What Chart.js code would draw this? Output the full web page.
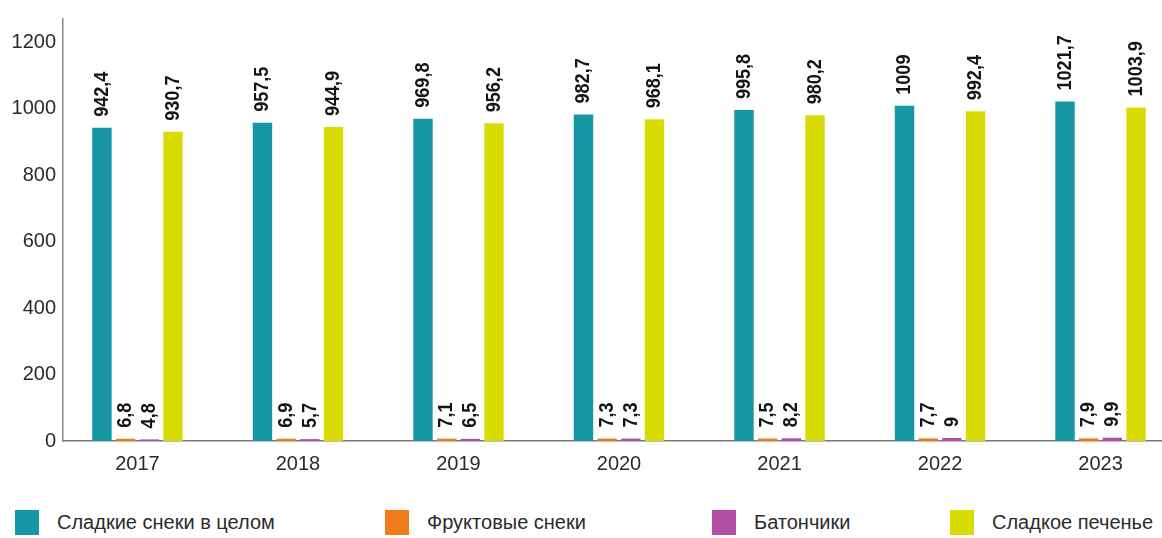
<!DOCTYPE html>
<html lang="ru">
<head>
<meta charset="utf-8">
<title>Сладкие снеки</title>
<script src="https://cdn.jsdelivr.net/npm/chart.js@4.4.1/dist/chart.umd.min.js"></script>
<style>
    html, body { margin: 0; padding: 0; background: #fff; }
    #wrap { position: relative; width: 1162px; height: 538px; overflow: hidden; }
    #chart { position: absolute; left: 0; top: 0; }
    #legend { position: absolute; left: 0; top: 510px; width: 1162px; height: 28px; }
    .item {
        position: absolute; top: 0; height: 25px;
        display: flex; align-items: center; white-space: nowrap;
        font: 20px 'Liberation Sans', Arial, sans-serif;
        color: #2b2b2b;
    }
    .box { width: 24px; height: 25px; margin-right: 18px; flex: none; }
</style>
</head>
<body>
<div id="wrap">
    <canvas id="chart" width="1162" height="490"></canvas>
    <div id="legend"></div>
</div>
<script>
const years = ['2017', '2018', '2019', '2020', '2021', '2022', '2023'];
const sweetSnacks = [942.4, 957.5, 969.8, 982.7, 995.8, 1009, 1021.7];
const fruitSnacks = [6.8, 6.9, 7.1, 7.3, 7.5, 7.7, 7.9];
const snackBars = [4.8, 5.7, 6.5, 7.3, 8.2, 9, 9.9];
const sweetCookies = [930.7, 944.9, 956.2, 968.1, 980.2, 992.4, 1003.9];
const yTicks = [0, 200, 400, 600, 800, 1000, 1200];

const FONT = "'Liberation Sans', Arial, sans-serif";
Chart.defaults.font.family = FONT;

// x is a linear axis so the groups can sit where they do in the picture
const X_MIN = -0.464, X_MAX = 6.383;
const toPoints = arr => arr.map((v, i) => ({x: i, y: v}));
const fmt = v => String(v).replace('.', ',');

const barLabels = {
    id: 'barLabels',
    afterDatasetsDraw(chart) {
        const ctx = chart.ctx;
        ctx.save();
        ctx.font = 'bold 21px ' + FONT;
        ctx.fillStyle = '#151515';
        ctx.textAlign = 'left';
        ctx.textBaseline = 'middle';
        chart.data.datasets.forEach((ds, di) => {
            chart.getDatasetMeta(di).data.forEach((bar, i) => {
                ctx.save();
                ctx.translate(bar.x, bar.y - 11);
                ctx.rotate(-Math.PI / 2);
                ctx.scale(0.86, 1); // narrow lettering like the original
                ctx.fillText(fmt(ds.data[i].y), 0, 0);
                ctx.restore();
            });
        });
        ctx.restore();
    }
};

const chart = new Chart(document.getElementById('chart'), {
    type: 'bar',
    data: {
        datasets: [{
            label: 'Сладкие снеки в целом',
            data: toPoints(sweetSnacks),
            backgroundColor: '#1797a5'
        }, {
            label: 'Фруктовые снеки',
            data: toPoints(fruitSnacks),
            backgroundColor: '#f07c1c'
        }, {
            label: 'Батончики',
            data: toPoints(snackBars),
            backgroundColor: '#b24fa7'
        }, {
            label: 'Сладкое печенье',
            data: toPoints(sweetCookies),
            backgroundColor: '#d9dc02'
        }]
    },
    options: {
        responsive: false,
        animation: false,
        categoryPercentage: 0.59,
        barPercentage: 0.82,
        layout: {padding: {top: 13, left: 0, right: 0, bottom: 0}},
        plugins: {legend: {display: false}, tooltip: {enabled: false}},
        scales: {
            x: {
                type: 'linear',
                offset: false,
                bounds: 'data',
                min: X_MIN,
                max: X_MAX,
                grid: {display: false, drawTicks: false, tickLength: 0},
                border: {display: true, color: '#7a7a7a', width: 1.5},
                afterBuildTicks: s => {
                    s.min = X_MIN;
                    s.max = X_MAX;
                    s.ticks = years.map((_, i) => ({value: i}));
                },
                afterFit: s => { s.height = 49; },
                ticks: {
                    padding: 11,
                    color: '#2b2b2b',
                    font: {size: 20},
                    maxRotation: 0,
                    callback: v => years[v]
                }
            },
            y: {
                min: 0,
                max: 1270,
                grid: {display: false, drawTicks: false, tickLength: 0},
                border: {display: true, color: '#8a8a8a', width: 1.5},
                afterBuildTicks: s => {
                    s.min = 0;
                    s.max = 1270;
                    s.ticks = yTicks.map(v => ({value: v}));
                },
                afterFit: s => { s.width = 63; },
                ticks: {
                    padding: 7,
                    color: '#2b2b2b',
                    font: {size: 20},
                    callback: v => String(v)
                }
            }
        }
    },
    plugins: [barLabels]
});

// legend under the chart
const legendLeft = [15, 385, 712, 950];
const legend = document.getElementById('legend');
chart.data.datasets.forEach((ds, i) => {
    const item = document.createElement('div');
    item.className = 'item';
    item.style.left = legendLeft[i] + 'px';
    const box = document.createElement('span');
    box.className = 'box';
    box.style.background = ds.backgroundColor;
    item.appendChild(box);
    item.appendChild(document.createTextNode(ds.label));
    legend.appendChild(item);
});
</script>
</body>
</html>
